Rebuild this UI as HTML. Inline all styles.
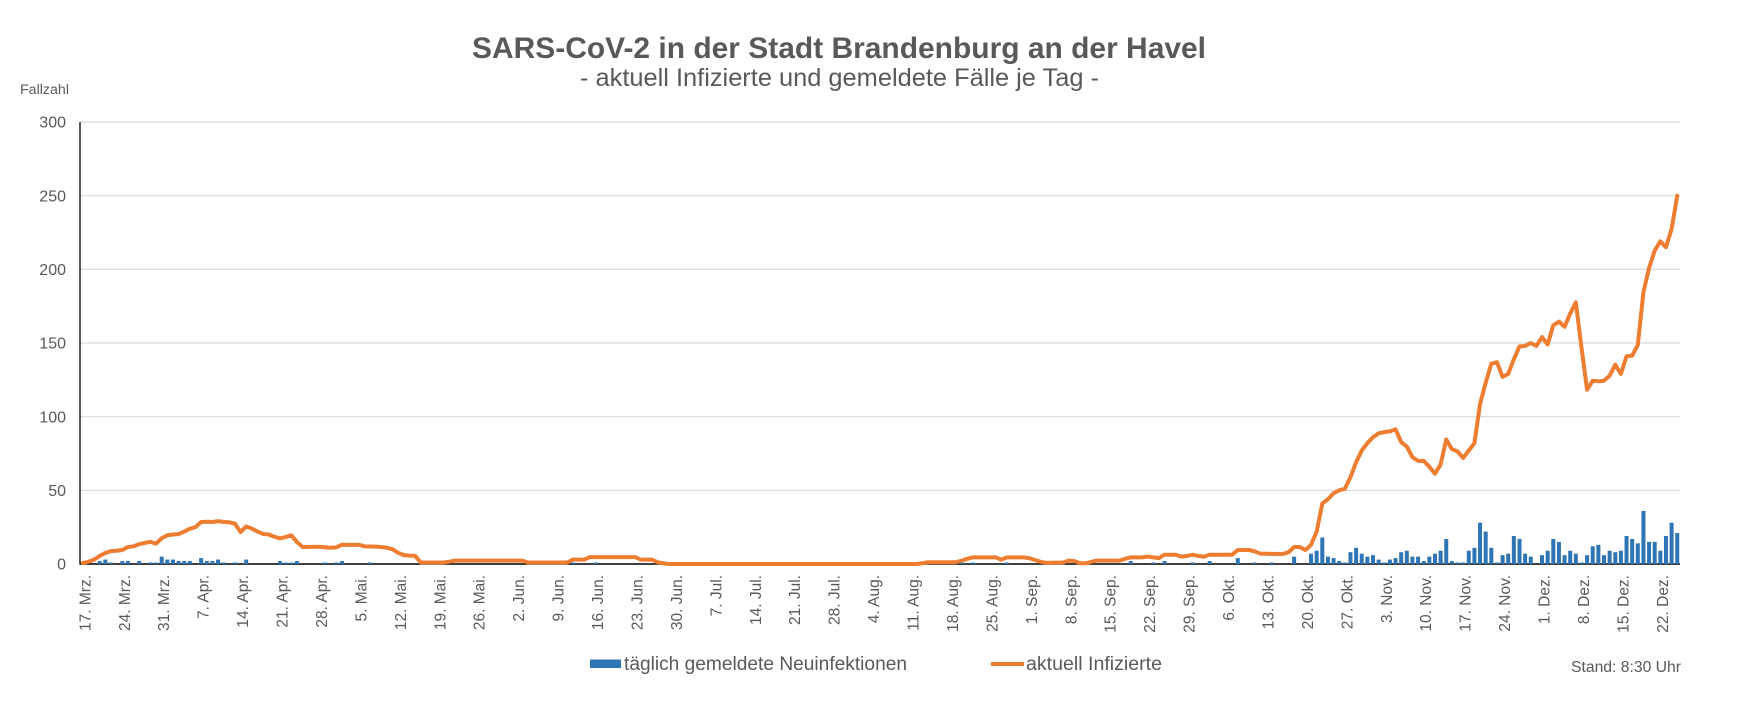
<!DOCTYPE html>
<html>
<head>
<meta charset="utf-8">
<style>
  html, body { margin: 0; padding: 0; background: #ffffff; }
  svg { display: block; }
  text { font-family: "Liberation Sans", "DejaVu Sans", sans-serif; fill: #595959; }
</style>
</head>
<body>
<svg width="1738" height="701" viewBox="0 0 1738 701" xmlns="http://www.w3.org/2000/svg">
  <rect x="0" y="0" width="1738" height="701" fill="#ffffff"/>

  <!-- Title -->
  <text x="472" y="58" font-size="30" font-weight="bold" textLength="734" lengthAdjust="spacingAndGlyphs">SARS-CoV-2 in der Stadt Brandenburg an der Havel</text>
  <text x="580" y="86" font-size="25" textLength="519" lengthAdjust="spacingAndGlyphs">- aktuell Infizierte und gemeldete Fälle je Tag -</text>

  <!-- Y axis title -->
  <text x="20" y="94" font-size="14.2" textLength="49" lengthAdjust="spacingAndGlyphs">Fallzahl</text>

  <!-- Gridlines -->
  <g stroke="#d9d9d9" stroke-width="1.2">
    <line x1="80" y1="122" x2="1680" y2="122"/>
    <line x1="80" y1="195.7" x2="1680" y2="195.7"/>
    <line x1="80" y1="269.3" x2="1680" y2="269.3"/>
    <line x1="80" y1="343" x2="1680" y2="343"/>
    <line x1="80" y1="416.7" x2="1680" y2="416.7"/>
    <line x1="80" y1="490.3" x2="1680" y2="490.3"/>
  </g>

  <!-- Y tick labels -->
  <g font-size="16" text-anchor="end">
    <text x="66" y="127.7">300</text>
    <text x="66" y="201.4">250</text>
    <text x="66" y="275">200</text>
    <text x="66" y="348.7">150</text>
    <text x="66" y="422.4">100</text>
    <text x="66" y="496">50</text>
    <text x="66" y="569.7">0</text>
  </g>

  <!-- Axes -->
  <line x1="80" y1="122" x2="80" y2="564.5" stroke="#000" stroke-width="1.3"/>
  <line x1="79.5" y1="564" x2="1680" y2="564" stroke="#000" stroke-width="1.5"/>

  <!-- Data area (data coords: x = day index, y = value) -->
  <g transform="translate(80,564) scale(5.634,-1.4733)">
    <g fill="#2e75b6">
      <rect x="3.145" y="0" width="0.71" height="2"/>
      <rect x="4.145" y="0" width="0.71" height="3"/>
      <rect x="5.145" y="0" width="0.71" height="1"/>
      <rect x="7.145" y="0" width="0.71" height="2"/>
      <rect x="8.145" y="0" width="0.71" height="2"/>
      <rect x="10.145" y="0" width="0.71" height="2"/>
      <rect x="12.145" y="0" width="0.71" height="1"/>
      <rect x="13.145" y="0" width="0.71" height="1"/>
      <rect x="14.145" y="0" width="0.71" height="5"/>
      <rect x="15.145" y="0" width="0.71" height="3"/>
      <rect x="16.145" y="0" width="0.71" height="3"/>
      <rect x="17.145" y="0" width="0.71" height="2"/>
      <rect x="18.145" y="0" width="0.71" height="2"/>
      <rect x="19.145" y="0" width="0.71" height="2"/>
      <rect x="21.145" y="0" width="0.71" height="4"/>
      <rect x="22.145" y="0" width="0.71" height="2"/>
      <rect x="23.145" y="0" width="0.71" height="2"/>
      <rect x="24.145" y="0" width="0.71" height="3"/>
      <rect x="25.145" y="0" width="0.71" height="1"/>
      <rect x="27.145" y="0" width="0.71" height="1"/>
      <rect x="29.145" y="0" width="0.71" height="3"/>
      <rect x="35.145" y="0" width="0.71" height="2"/>
      <rect x="36.145" y="0" width="0.71" height="1"/>
      <rect x="37.145" y="0" width="0.71" height="1"/>
      <rect x="38.145" y="0" width="0.71" height="2"/>
      <rect x="43.145" y="0" width="0.71" height="1"/>
      <rect x="45.145" y="0" width="0.71" height="1"/>
      <rect x="46.145" y="0" width="0.71" height="2"/>
      <rect x="51.145" y="0" width="0.71" height="1"/>
      <rect x="87.145" y="0" width="0.71" height="1"/>
      <rect x="91.145" y="0" width="0.71" height="1"/>
      <rect x="156.145" y="0" width="0.71" height="1"/>
      <rect x="158.145" y="0" width="0.71" height="1"/>
      <rect x="164.145" y="0" width="0.71" height="1"/>
      <rect x="186.145" y="0" width="0.71" height="2"/>
      <rect x="190.145" y="0" width="0.71" height="1"/>
      <rect x="192.145" y="0" width="0.71" height="2"/>
      <rect x="197.145" y="0" width="0.71" height="1"/>
      <rect x="200.145" y="0" width="0.71" height="2"/>
      <rect x="205.145" y="0" width="0.71" height="4"/>
      <rect x="208.145" y="0" width="0.71" height="1"/>
      <rect x="211.145" y="0" width="0.71" height="1"/>
      <rect x="215.145" y="0" width="0.71" height="5"/>
      <rect x="218.145" y="0" width="0.71" height="7"/>
      <rect x="219.145" y="0" width="0.71" height="9"/>
      <rect x="220.145" y="0" width="0.71" height="18"/>
      <rect x="221.145" y="0" width="0.71" height="5"/>
      <rect x="222.145" y="0" width="0.71" height="4"/>
      <rect x="223.145" y="0" width="0.71" height="2"/>
      <rect x="224.145" y="0" width="0.71" height="1"/>
      <rect x="225.145" y="0" width="0.71" height="8"/>
      <rect x="226.145" y="0" width="0.71" height="11"/>
      <rect x="227.145" y="0" width="0.71" height="7"/>
      <rect x="228.145" y="0" width="0.71" height="5"/>
      <rect x="229.145" y="0" width="0.71" height="6"/>
      <rect x="230.145" y="0" width="0.71" height="3"/>
      <rect x="231.145" y="0" width="0.71" height="1"/>
      <rect x="232.145" y="0" width="0.71" height="3"/>
      <rect x="233.145" y="0" width="0.71" height="4"/>
      <rect x="234.145" y="0" width="0.71" height="8"/>
      <rect x="235.145" y="0" width="0.71" height="9"/>
      <rect x="236.145" y="0" width="0.71" height="5"/>
      <rect x="237.145" y="0" width="0.71" height="5"/>
      <rect x="238.145" y="0" width="0.71" height="2"/>
      <rect x="239.145" y="0" width="0.71" height="5"/>
      <rect x="240.145" y="0" width="0.71" height="7"/>
      <rect x="241.145" y="0" width="0.71" height="9"/>
      <rect x="242.145" y="0" width="0.71" height="17"/>
      <rect x="243.145" y="0" width="0.71" height="2"/>
      <rect x="244.145" y="0" width="0.71" height="1"/>
      <rect x="245.145" y="0" width="0.71" height="1"/>
      <rect x="246.145" y="0" width="0.71" height="9"/>
      <rect x="247.145" y="0" width="0.71" height="11"/>
      <rect x="248.145" y="0" width="0.71" height="28"/>
      <rect x="249.145" y="0" width="0.71" height="22"/>
      <rect x="250.145" y="0" width="0.71" height="11"/>
      <rect x="251.145" y="0" width="0.71" height="1"/>
      <rect x="252.145" y="0" width="0.71" height="6"/>
      <rect x="253.145" y="0" width="0.71" height="7"/>
      <rect x="254.145" y="0" width="0.71" height="19"/>
      <rect x="255.145" y="0" width="0.71" height="17"/>
      <rect x="256.145" y="0" width="0.71" height="7"/>
      <rect x="257.145" y="0" width="0.71" height="5"/>
      <rect x="259.145" y="0" width="0.71" height="6"/>
      <rect x="260.145" y="0" width="0.71" height="9"/>
      <rect x="261.145" y="0" width="0.71" height="17"/>
      <rect x="262.145" y="0" width="0.71" height="15"/>
      <rect x="263.145" y="0" width="0.71" height="6"/>
      <rect x="264.145" y="0" width="0.71" height="9"/>
      <rect x="265.145" y="0" width="0.71" height="7"/>
      <rect x="266.145" y="0" width="0.71" height="1"/>
      <rect x="267.145" y="0" width="0.71" height="6"/>
      <rect x="268.145" y="0" width="0.71" height="12"/>
      <rect x="269.145" y="0" width="0.71" height="13"/>
      <rect x="270.145" y="0" width="0.71" height="6"/>
      <rect x="271.145" y="0" width="0.71" height="9"/>
      <rect x="272.145" y="0" width="0.71" height="8"/>
      <rect x="273.145" y="0" width="0.71" height="9"/>
      <rect x="274.145" y="0" width="0.71" height="19"/>
      <rect x="275.145" y="0" width="0.71" height="17"/>
      <rect x="276.145" y="0" width="0.71" height="14"/>
      <rect x="277.145" y="0" width="0.71" height="36"/>
      <rect x="278.145" y="0" width="0.71" height="15"/>
      <rect x="279.145" y="0" width="0.71" height="15"/>
      <rect x="280.145" y="0" width="0.71" height="9"/>
      <rect x="281.145" y="0" width="0.71" height="19"/>
      <rect x="282.145" y="0" width="0.71" height="28"/>
      <rect x="283.145" y="0" width="0.71" height="21"/>
    </g>
    <polyline fill="none" stroke="#ed7d31" stroke-width="4" stroke-linejoin="round" stroke-linecap="round" vector-effect="non-scaling-stroke"
      points="0.5,0.7 1.5,1.5 2.5,3 3.5,5.5 4.5,7.5 5.5,8.8 6.5,9 7.5,9.5 8.5,11.5 9.5,12 10.5,13.5 11.5,14.3 12.5,15 13.5,13.8 14.5,17.5 15.5,19.5 16.5,20 17.5,20.3 18.5,22 19.5,24 20.5,25 21.5,28.5 22.5,28.7 23.5,28.5 24.5,29 25.5,28.6 26.5,28.3 27.5,27.4 28.5,21.7 29.5,25.5 30.5,24 31.5,22 32.5,20.4 33.5,20 34.5,18.5 35.5,17.4 36.5,18.3 37.5,19.5 38.5,15 39.5,11.5 42.5,11.7 44.5,11 45.5,11.3 46.5,13.1 49.5,13 50.5,12 52.5,11.8 53.5,11.5 54.5,11 55.5,10 56.5,7.5 57.5,6 58.5,5.7 59.5,5.5 60.5,1 64.5,1 65.5,1.5 66.5,2.3 78.5,2.3 79.5,1 86.5,1 87.5,3 89.5,3 90.5,4.7 98.5,4.7 99.5,3 101.5,3 102.5,1.2 103.5,0.5 104.5,0 148.5,0 149.5,0.5 150.5,1.2 155.5,1.2 156.5,2.3 157.5,3.5 158.5,4.5 162.5,4.5 163.5,3 164.5,4.5 167.5,4.5 168.5,4 169.5,2.7 170.5,1.5 171.5,0.8 174.5,1 175.5,2.3 176.5,2 177.5,0.5 178.5,0.5 179.5,1.5 180.5,2.3 184.5,2.3 185.5,3.5 186.5,4.5 188.5,4.5 189.5,5 190.5,4.5 191.5,4 192.5,6.3 194.5,6.3 195.5,5 196.5,5.5 197.5,6.3 198.5,5.5 199.5,5 200.5,6.3 204.5,6.3 205.5,9.5 207.5,9.5 208.5,8.6 209.5,7 213.5,6.8 214.5,8 215.5,11.5 216.5,11.5 217.5,9.5 218.5,13 219.5,22 220.5,41 221.5,44 222.5,48 223.5,50 224.5,51 225.5,59 226.5,69 227.5,77 228.5,82 229.5,86 230.5,88.7 231.5,89.5 232.5,90 233.5,91.5 234.5,82.7 235.5,79.7 236.5,72.5 237.5,70 238.5,70 239.5,66 240.5,61.3 241.5,67.6 242.5,84.5 243.5,78 244.5,76.4 245.5,72 246.5,77 247.5,82 248.5,108.6 249.5,123 250.5,136 251.5,137 252.5,127 253.5,129 254.5,139 255.5,147.7 256.5,148 257.5,150 258.5,148 259.5,154 260.5,149 261.5,162 262.5,164.5 263.5,161 264.5,170 265.5,177.6 266.5,147 267.5,118.3 268.5,124.4 269.5,124 270.5,124.4 271.5,127.8 272.5,135.3 273.5,129 274.5,141 275.5,141.4 276.5,148.6 277.5,184.4 278.5,201 279.5,212.7 280.5,219 281.5,215 282.5,227.4 283.5,250"/>
  </g>

  <!-- X tick labels (rotated) -->
  <g font-size="15.5" text-anchor="end">
    <text transform="translate(90.3,575) rotate(-90)">17. Mrz.</text>
    <text transform="translate(129.8,575) rotate(-90)">24. Mrz.</text>
    <text transform="translate(169.2,575) rotate(-90)">31. Mrz.</text>
    <text transform="translate(208.6,575) rotate(-90)">7. Apr.</text>
    <text transform="translate(248.1,575) rotate(-90)">14. Apr.</text>
    <text transform="translate(287.5,575) rotate(-90)">21. Apr.</text>
    <text transform="translate(327.0,575) rotate(-90)">28. Apr.</text>
    <text transform="translate(366.4,575) rotate(-90)">5. Mai.</text>
    <text transform="translate(405.8,575) rotate(-90)">12. Mai.</text>
    <text transform="translate(445.3,575) rotate(-90)">19. Mai.</text>
    <text transform="translate(484.7,575) rotate(-90)">26. Mai.</text>
    <text transform="translate(524.1,575) rotate(-90)">2. Jun.</text>
    <text transform="translate(563.6,575) rotate(-90)">9. Jun.</text>
    <text transform="translate(603.0,575) rotate(-90)">16. Jun.</text>
    <text transform="translate(642.4,575) rotate(-90)">23. Jun.</text>
    <text transform="translate(681.9,575) rotate(-90)">30. Jun.</text>
    <text transform="translate(721.3,575) rotate(-90)">7. Jul.</text>
    <text transform="translate(760.8,575) rotate(-90)">14. Jul.</text>
    <text transform="translate(800.2,575) rotate(-90)">21. Jul.</text>
    <text transform="translate(839.6,575) rotate(-90)">28. Jul.</text>
    <text transform="translate(879.1,575) rotate(-90)">4. Aug.</text>
    <text transform="translate(918.5,575) rotate(-90)">11. Aug.</text>
    <text transform="translate(958.0,575) rotate(-90)">18. Aug.</text>
    <text transform="translate(997.4,575) rotate(-90)">25. Aug.</text>
    <text transform="translate(1036.8,575) rotate(-90)">1. Sep.</text>
    <text transform="translate(1076.3,575) rotate(-90)">8. Sep.</text>
    <text transform="translate(1115.7,575) rotate(-90)">15. Sep.</text>
    <text transform="translate(1155.1,575) rotate(-90)">22. Sep.</text>
    <text transform="translate(1194.6,575) rotate(-90)">29. Sep.</text>
    <text transform="translate(1234.0,575) rotate(-90)">6. Okt.</text>
    <text transform="translate(1273.5,575) rotate(-90)">13. Okt.</text>
    <text transform="translate(1312.9,575) rotate(-90)">20. Okt.</text>
    <text transform="translate(1352.3,575) rotate(-90)">27. Okt.</text>
    <text transform="translate(1391.8,575) rotate(-90)">3. Nov.</text>
    <text transform="translate(1431.2,575) rotate(-90)">10. Nov.</text>
    <text transform="translate(1470.6,575) rotate(-90)">17. Nov.</text>
    <text transform="translate(1510.1,575) rotate(-90)">24. Nov.</text>
    <text transform="translate(1549.5,575) rotate(-90)">1. Dez.</text>
    <text transform="translate(1589.0,575) rotate(-90)">8. Dez.</text>
    <text transform="translate(1628.4,575) rotate(-90)">15. Dez.</text>
    <text transform="translate(1667.8,575) rotate(-90)">22. Dez.</text>
  </g>

  <!-- Legend -->
  <rect x="590" y="659.5" width="31" height="8.5" fill="#2e75b6"/>
  <text x="624" y="670" font-size="19.3" textLength="283" lengthAdjust="spacingAndGlyphs">täglich gemeldete Neuinfektionen</text>
  <line x1="991" y1="664" x2="1024" y2="664" stroke="#ed7d31" stroke-width="4"/>
  <text x="1026" y="670" font-size="19.3" textLength="136" lengthAdjust="spacingAndGlyphs">aktuell Infizierte</text>

  <!-- Footer note -->
  <text x="1681" y="672" font-size="15.5" text-anchor="end" textLength="110" lengthAdjust="spacingAndGlyphs">Stand: 8:30 Uhr</text>
</svg>
</body>
</html>
